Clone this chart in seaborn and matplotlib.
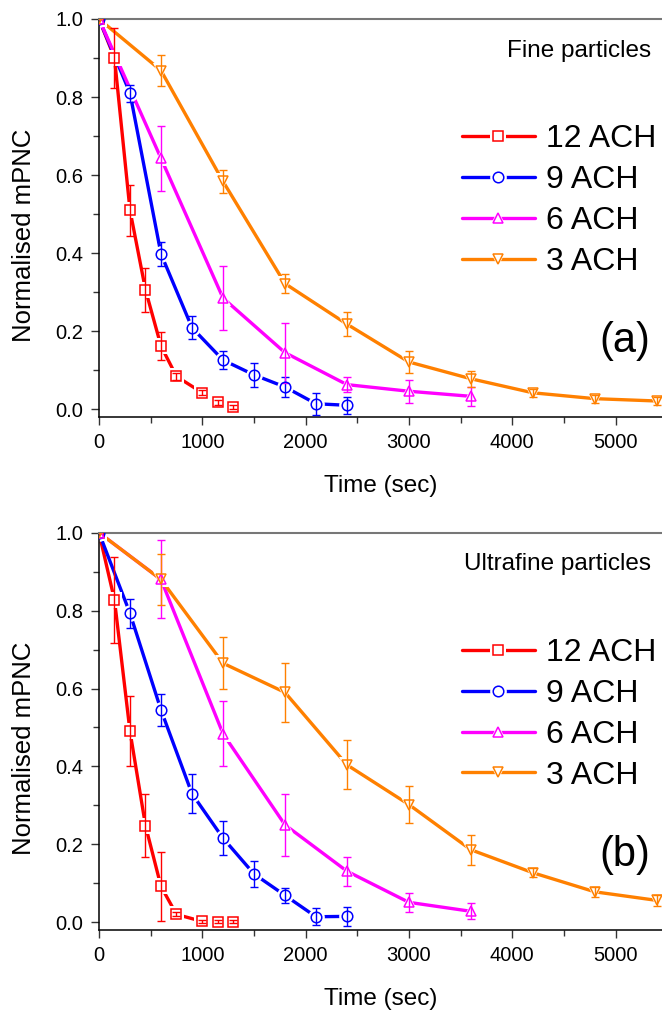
import numpy as np
import pandas as pd
import matplotlib
matplotlib.use("Agg")
import matplotlib.pyplot as plt
import seaborn as sns
from matplotlib.lines import Line2D
from matplotlib.legend_handler import HandlerTuple
from matplotlib.ticker import MultipleLocator

sns.set_theme(style="ticks")
plt.rcParams["font.family"] = ["Liberation Sans", "DejaVu Sans"]
plt.rcParams["text.color"] = "black"
plt.rcParams["axes.labelcolor"] = "black"
plt.rcParams["xtick.color"] = "black"
plt.rcParams["ytick.color"] = "black"

labels = ["12 ACH", "9 ACH", "6 ACH", "3 ACH"]
colors = ["#FF0000", "#0000FF", "#FF00FF", "#FF8000"]
markers = ["s", "o", "^", "v"]

# time points (sec)
t12 = [0, 150, 300, 450, 600, 750, 1000, 1150, 1300]
t9 = [0, 300, 600, 900, 1200, 1500, 1800, 2100, 2400]
t6 = [0, 600, 1200, 1800, 2400, 3000, 3600]
t3 = [0, 600, 1200, 1800, 2400, 3000, 3600, 4200, 4800, 5400]

# (a) fine particles
fine_12 = [1.0, 0.90, 0.51, 0.306, 0.162, 0.084, 0.042, 0.018, 0.006]
fine_12_err = [0, 0.076, 0.065, 0.056, 0.035, 0.008, 0.006, 0.006, 0.006]
fine_9 = [1.0, 0.81, 0.398, 0.209, 0.126, 0.088, 0.057, 0.014, 0.010]
fine_9_err = [0, 0.022, 0.03, 0.03, 0.024, 0.03, 0.025, 0.028, 0.022]
fine_6 = [1.0, 0.643, 0.285, 0.145, 0.063, 0.046, 0.033]
fine_6_err = [0, 0.083, 0.083, 0.077, 0.02, 0.03, 0.024]
fine_3 = [1.0, 0.868, 0.584, 0.322, 0.218, 0.121, 0.078, 0.042, 0.027, 0.021]
fine_3_err = [0, 0.04, 0.03, 0.025, 0.03, 0.028, 0.02, 0.01, 0.01, 0.01]

# (b) ultrafine particles
uf_12 = [1.0, 0.827, 0.49, 0.248, 0.092, 0.02, 0.002, 0.001, 0.001]
uf_12_err = [0, 0.11, 0.09, 0.08, 0.088, 0.005, 0.004, 0.004, 0.004]
uf_9 = [1.0, 0.793, 0.545, 0.33, 0.216, 0.124, 0.069, 0.014, 0.015]
uf_9_err = [0, 0.037, 0.04, 0.05, 0.043, 0.034, 0.02, 0.022, 0.025]
uf_6 = [1.0, 0.88, 0.484, 0.25, 0.131, 0.051, 0.028]
uf_6_err = [0, 0.1, 0.084, 0.079, 0.037, 0.024, 0.021]
uf_3 = [1.0, 0.88, 0.665, 0.59, 0.404, 0.302, 0.186, 0.127, 0.078, 0.056]
uf_3_err = [0, 0.066, 0.066, 0.075, 0.063, 0.047, 0.038, 0.012, 0.012, 0.015]

times = [t12, t9, t6, t3]
panels = [
    dict(vals=[fine_12, fine_9, fine_6, fine_3],
         errs=[fine_12_err, fine_9_err, fine_6_err, fine_3_err],
         title="Fine particles", tag="(a)"),
    dict(vals=[uf_12, uf_9, uf_6, uf_3],
         errs=[uf_12_err, uf_9_err, uf_6_err, uf_3_err],
         title="Ultrafine particles", tag="(b)"),
]

W, H = 662, 1017
fig = plt.figure(figsize=(W / 100, H / 100), dpi=100)
ax_rects = [
    [99 / W, 1 - 417 / H, 563 / W, 398 / H],
    [99 / W, 1 - 930 / H, 563 / W, 397.3 / H],
]

LW = 2.4
MS = 7.6
BG_MS = 12.0

for p, rect in zip(panels, ax_rects):
    ax = fig.add_axes(rect)
    for t, v, e, c, m in zip(times, p["vals"], p["errs"], colors, markers):
        df = pd.DataFrame({"t": t, "v": v})
        sns.lineplot(data=df, x="t", y="v", color=c, lw=LW, ax=ax,
                     legend=False, sort=False, estimator=None, zorder=2)
    for t, v, e, c, m in zip(times, p["vals"], p["errs"], colors, markers):
        ax.plot(t, v, ls="none", marker=m, ms=BG_MS, mfc="white", mec="white",
                mew=0, zorder=2.5)
    for t, v, e, c, m in zip(times, p["vals"], p["errs"], colors, markers):
        ax.errorbar(t, v, yerr=e, fmt="none", ecolor=c, elinewidth=1.0,
                    capsize=3.2, capthick=1.0, zorder=3)
        ax.plot(t, v, ls="none", marker=m, ms=MS, mfc="none", mec=c,
                mew=1.1, zorder=4)

    ax.set_xlim(0, 5450)
    ax.set_ylim(-0.02, 1.0)
    ax.xaxis.set_major_locator(MultipleLocator(1000))
    ax.xaxis.set_minor_locator(MultipleLocator(500))
    ax.yaxis.set_major_locator(MultipleLocator(0.2))
    ax.yaxis.set_minor_locator(MultipleLocator(0.1))
    ax.yaxis.set_major_formatter(matplotlib.ticker.FormatStrFormatter("%.1f"))
    ax.tick_params(which="major", length=5.5, width=1.0, labelsize=14.5,
                   color="#333333", labelcolor="black", pad=6)
    ax.tick_params(which="minor", length=4, width=1.0, color="#333333")
    for s in ["left", "bottom"]:
        ax.spines[s].set_color("black")
        ax.spines[s].set_linewidth(1.1)
    ax.spines["top"].set_color("#777777")
    ax.spines["top"].set_linewidth(1.5)
    ax.spines["right"].set_visible(False)

    ax.set_xlabel("Time (sec)", fontsize=17.5, color="black")
    ax.set_ylabel("Normalised mPNC", fontsize=18.5, color="black")
    ax.xaxis.set_label_coords(0.5, -0.145)
    ax.yaxis.set_label_coords(-0.112, 0.457)

    ax.text(0.98, 0.905, p["title"], transform=ax.transAxes, ha="right",
            va="baseline", fontsize=17.5, color="black")
    ax.text(0.979, 0.19, p["tag"], transform=ax.transAxes, ha="right",
            va="center", fontsize=30, color="black")

    handles = []
    for c, m in zip(colors, markers):
        handles.append((
            Line2D([], [], color=c, lw=LW),
            Line2D([], [], ls="none", marker=m, ms=BG_MS, mfc="white",
                   mec="white", mew=0),
            Line2D([], [], ls="none", marker=m, ms=MS, mfc="none", mec=c,
                   mew=1.1),
        ))
    leg = ax.legend(handles, labels,
                    handler_map={tuple: HandlerTuple(ndivide=1, pad=0)},
                    loc="upper left", bbox_to_anchor=(0.644, 0.735),
                    frameon=False, fontsize=23, handlelength=2.3,
                    handletextpad=0.35, labelspacing=0.34, borderpad=0,
                    borderaxespad=0)
    for txt in leg.get_texts():
        txt.set_color("black")

fig.savefig("out.png", dpi=100)
